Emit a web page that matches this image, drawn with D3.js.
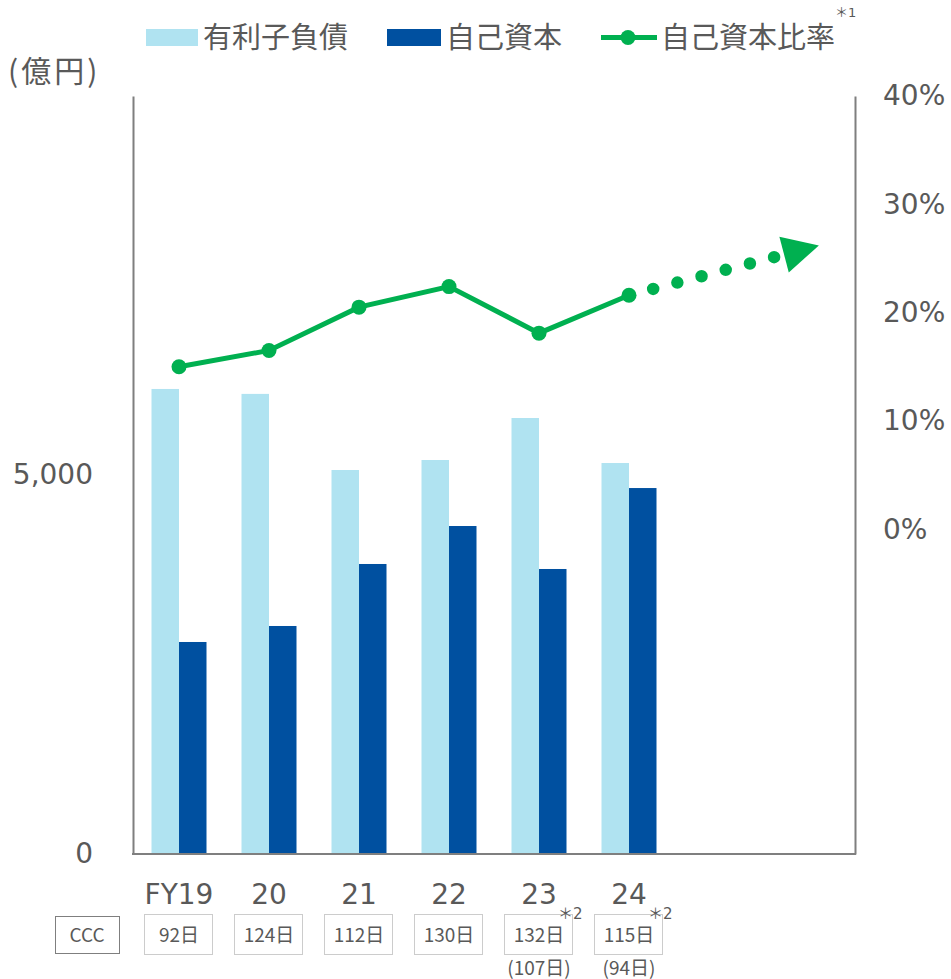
<!DOCTYPE html>
<html>
<head>
<meta charset="utf-8">
<script src="https://cdn.jsdelivr.net/npm/d3@7"></script>
<style>
  body { margin: 0; background: #fff; }
  text { fill: #595959; }
</style>
</head>
<body>
<div id="chart"></div>
<script>
// data
const categories = ["FY19", "20", "21", "22", "23", "24"];
const debt = [6135, 6070, 5066, 5198, 5752, 5158];        // 有利子負債
const equity = [2797, 3008, 3826, 4327, 3760, 4828];      // 自己資本
const equityRatio = [15.0, 16.5, 20.5, 22.4, 18.1, 21.6]; // 自己資本比率 %
const cccDays = ["92日", "124日", "112日", "130日", "132日", "115日"];
const cccAdjusted = ["", "", "", "", "(107日)", "(94日)"];
const labelNotes = ["", "", "", "", "＊2", "＊2"];
const leftTicks = [0, 5000];
const rightTicks = [0, 10, 20, 30, 40];
// trend arrow: from last point to a target (slot position, %)
const trendFrom = {pos: 5, v: 21.6};
const trendTo = {pos: 7.11, v: 26.2};

const W = 951, H = 979;
const lightBlue = "#b0e3f1", darkBlue = "#0050a0", green = "#00b050", axisCol = "#7f7f7f";
const numFont = "'DejaVu Sans', 'Noto Sans CJK JP', sans-serif";
const jpFont = "'Noto Sans CJK JP', sans-serif";

const svg = d3.select("#chart").append("svg")
  .attr("width", W).attr("height", H);

// 8 slots: 6 years + room for the trend arrow
const x = d3.scaleBand().domain(d3.range(8)).range([134, 854]).padding(0);
const cx = i => x(0) + x.bandwidth() * (i + 0.5);
const yL = d3.scaleLinear().domain([0, 10000]).range([854, 96]);
const yR = d3.scaleLinear().domain([-30, 40]).range([854, 96]);

// bars
const bw = 27.5;
svg.selectAll(".debt").data(debt).enter().append("rect")
  .attr("x", (d, i) => cx(i) - bw).attr("width", bw)
  .attr("y", d => yL(d)).attr("height", d => yL(0) - yL(d))
  .attr("fill", lightBlue);
svg.selectAll(".equity").data(equity).enter().append("rect")
  .attr("x", (d, i) => cx(i)).attr("width", bw)
  .attr("y", d => yL(d)).attr("height", d => yL(0) - yL(d))
  .attr("fill", darkBlue);

// frame: left, right, bottom
const left = svg.append("g").attr("transform", "translate(133,0)")
  .call(d3.axisLeft(yL).tickValues(leftTicks).tickSize(0).tickPadding(40).tickFormat(d3.format(",")));
const right = svg.append("g").attr("transform", "translate(855,0)")
  .call(d3.axisRight(yR).tickValues(rightTicks).tickSize(0).tickPadding(28).tickFormat(d => d + "%"));
[left, right].forEach(g => {
  g.select(".domain").attr("stroke", axisCol).attr("stroke-width", 2);
  g.selectAll("text").attr("font-family", numFont).attr("font-size", 28).attr("fill", "#595959");
});
svg.append("line").attr("x1", 132).attr("x2", 856).attr("y1", 854).attr("y2", 854)
  .attr("stroke", axisCol).attr("stroke-width", 2);

// line
const line = d3.line().x((d, i) => cx(i)).y(d => yR(d));
svg.append("path").datum(equityRatio).attr("d", line)
  .attr("fill", "none").attr("stroke", green).attr("stroke-width", 5);

// trend arrow
const p0 = [cx(trendFrom.pos), yR(trendFrom.v)], p1 = [cx(trendTo.pos), yR(trendTo.v)];
const dx = p1[0] - p0[0], dy = p1[1] - p0[1], len = Math.hypot(dx, dy);
const ux = dx / len, uy = dy / len;
const headLen = 36, headHalf = 18.5;
const base = [p1[0] - ux * headLen, p1[1] - uy * headLen];
svg.append("line").attr("x1", p0[0]).attr("y1", p0[1]).attr("x2", base[0]).attr("y2", base[1])
  .attr("stroke", green).attr("stroke-width", 12.5).attr("stroke-linecap", "round")
  .attr("stroke-dasharray", "0 25");
svg.append("path")
  .attr("d", `M${p1[0]},${p1[1]}L${base[0] - uy * headHalf},${base[1] + ux * headHalf}L${base[0] + uy * headHalf},${base[1] - ux * headHalf}Z`)
  .attr("fill", green);

svg.selectAll(".dot").data(equityRatio).enter().append("circle")
  .attr("cx", (d, i) => cx(i)).attr("cy", d => yR(d)).attr("r", 7.5).attr("fill", green);

// category labels
svg.selectAll(".cat").data(categories).enter().append("text")
  .attr("x", (d, i) => cx(i)).attr("y", 904).attr("text-anchor", "middle")
  .attr("font-family", numFont).attr("font-size", 28).text(d => d);
svg.selectAll(".note").data(labelNotes).enter().append("text")
  .attr("x", (d, i) => cx(i) + 19).attr("y", 919)
  .attr("font-family", numFont).attr("font-size", 15).text(d => d);

// CCC row
svg.append("rect").attr("x", 55.5).attr("y", 916.5).attr("width", 64).attr("height", 37)
  .attr("fill", "none").attr("stroke", axisCol).attr("stroke-width", 1);
svg.append("text").attr("x", 87).attr("y", 942).attr("text-anchor", "middle")
  .attr("font-family", jpFont).attr("font-size", 19).text("CCC");
svg.selectAll(".cccbox").data(cccDays).enter().append("rect")
  .attr("x", (d, i) => Math.round(cx(i)) - 34.5).attr("y", 914.5).attr("width", 68).attr("height", 40)
  .attr("fill", "none").attr("stroke", "#999").attr("stroke-width", 1).attr("stroke-dasharray", "1 1");
svg.selectAll(".ccc").data(cccDays).enter().append("text")
  .attr("x", (d, i) => cx(i)).attr("y", 942).attr("text-anchor", "middle")
  .attr("font-family", jpFont).attr("font-size", 19).text(d => d);
svg.selectAll(".cccadj").data(cccAdjusted).enter().append("text")
  .attr("x", (d, i) => cx(i)).attr("y", 975).attr("text-anchor", "middle")
  .attr("font-family", jpFont).attr("font-size", 19).text(d => d);

// unit
svg.append("text").attr("x", 8).attr("y", 82)
  .attr("font-family", jpFont).attr("font-size", 30).attr("letter-spacing", 3).text("(億円)");

// legend
const lg = svg.append("g").attr("font-family", jpFont).attr("font-size", 29);
lg.append("rect").attr("x", 146).attr("y", 29).attr("width", 52).attr("height", 17).attr("fill", lightBlue);
lg.append("text").attr("x", 203).attr("y", 48).text("有利子負債");
lg.append("rect").attr("x", 387).attr("y", 29).attr("width", 54).attr("height", 17).attr("fill", darkBlue);
lg.append("text").attr("x", 446).attr("y", 48).text("自己資本");
lg.append("line").attr("x1", 601).attr("x2", 657).attr("y1", 37.5).attr("y2", 37.5)
  .attr("stroke", green).attr("stroke-width", 5);
lg.append("circle").attr("cx", 628).attr("cy", 37.5).attr("r", 7.5).attr("fill", green);
lg.append("text").attr("x", 661).attr("y", 48).text("自己資本比率");
svg.append("text").attr("x", 835).attr("y", 17).attr("font-family", numFont).attr("font-size", 13).text("＊1");
</script>
</body>
</html>
